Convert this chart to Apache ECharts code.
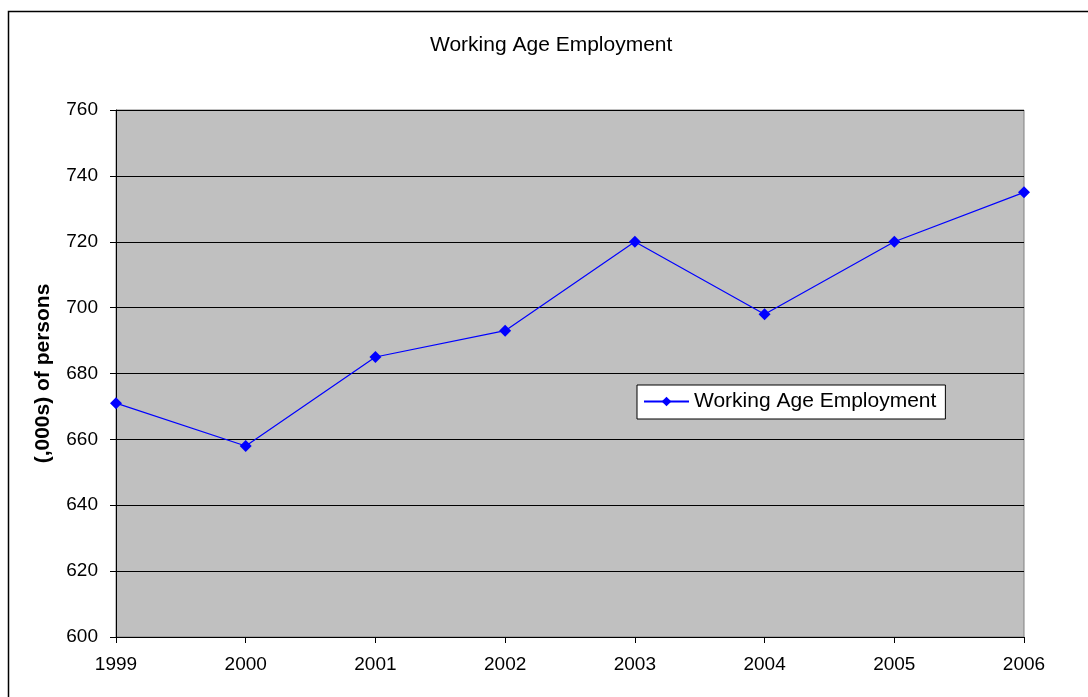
<!DOCTYPE html>
<html><head><meta charset="utf-8">
<script src="https://cdn.jsdelivr.net/npm/echarts@6/dist/echarts.min.js"></script>
<style>html,body{margin:0;padding:0;background:#fff}#c{width:1088px;height:697px}</style>
</head><body><div id="c"></div>
<script>
const years = ['1999','2000','2001','2002','2003','2004','2005','2006'];
const employment = [671, 658, 685, 693, 720, 698, 720, 735];
const yTicks = [600, 620, 640, 660, 680, 700, 720, 740, 760];

const chart = echarts.init(document.getElementById('c'), null, {renderer:'canvas'});
const font = 'Liberation Sans, Arial, sans-serif';
chart.setOption({
  backgroundColor: '#fff',
  animation: false,
  title: {text: 'Working Age Employment', left: 425, top: 30,
    textStyle: {fontFamily: font, fontSize: 21, fontWeight: 'normal', color: '#000'}},
  graphic: [{type:'rect', shape:{x:8.5, y:11.5, width:1100, height:720}, style:{fill:'none', stroke:'#000', lineWidth:1.5}, silent:true, z:-1}],
  legend: {left: 637, top: 385, orient:'horizontal', backgroundColor:'#fff', borderColor:'#000', borderWidth:1,
    padding:[6,9,7,6], itemWidth: 45, itemHeight: 12, itemGap: 5,
    textStyle:{fontFamily: font, fontSize: 21, color:'#000'}, data:['Working Age Employment']},
  grid: {left:116, right:64, top:110, bottom:60, show:true, backgroundColor:'#c0c0c0', borderColor:'#808080', borderWidth:1},
  xAxis: {type:'category', data: years, boundaryGap:false,
    axisLine:{lineStyle:{color:'#000', width:1}},
    axisTick:{show:true, length:6, lineStyle:{color:'#000'}},
    axisLabel:{fontFamily:font, fontSize:19, color:'#000', margin:18},
    splitLine:{show:false}},
  yAxis: {type:'value', min: yTicks[0], max: yTicks[yTicks.length-1], interval: 20,
    name:'(,000s) of persons', nameLocation:'middle', nameGap:62,
    nameTextStyle:{fontFamily:font, fontSize:21, fontWeight:'bold', color:'#000'},
    axisLine:{show:true, lineStyle:{color:'#000'}},
    axisTick:{show:true, length:6, lineStyle:{color:'#000'}},
    axisLabel:{fontFamily:font, fontSize:19, color:'#000', margin:18},
    splitLine:{show:true, lineStyle:{color:'#000', width:1}}},
  series: [{name:'Working Age Employment', type:'line', data: employment,
    symbol:'diamond', symbolSize:12, color:'#0000ff',
    lineStyle:{color:'#0000ff', width:1.2}, itemStyle:{color:'#0000ff'}}]
});
</script></body></html>
